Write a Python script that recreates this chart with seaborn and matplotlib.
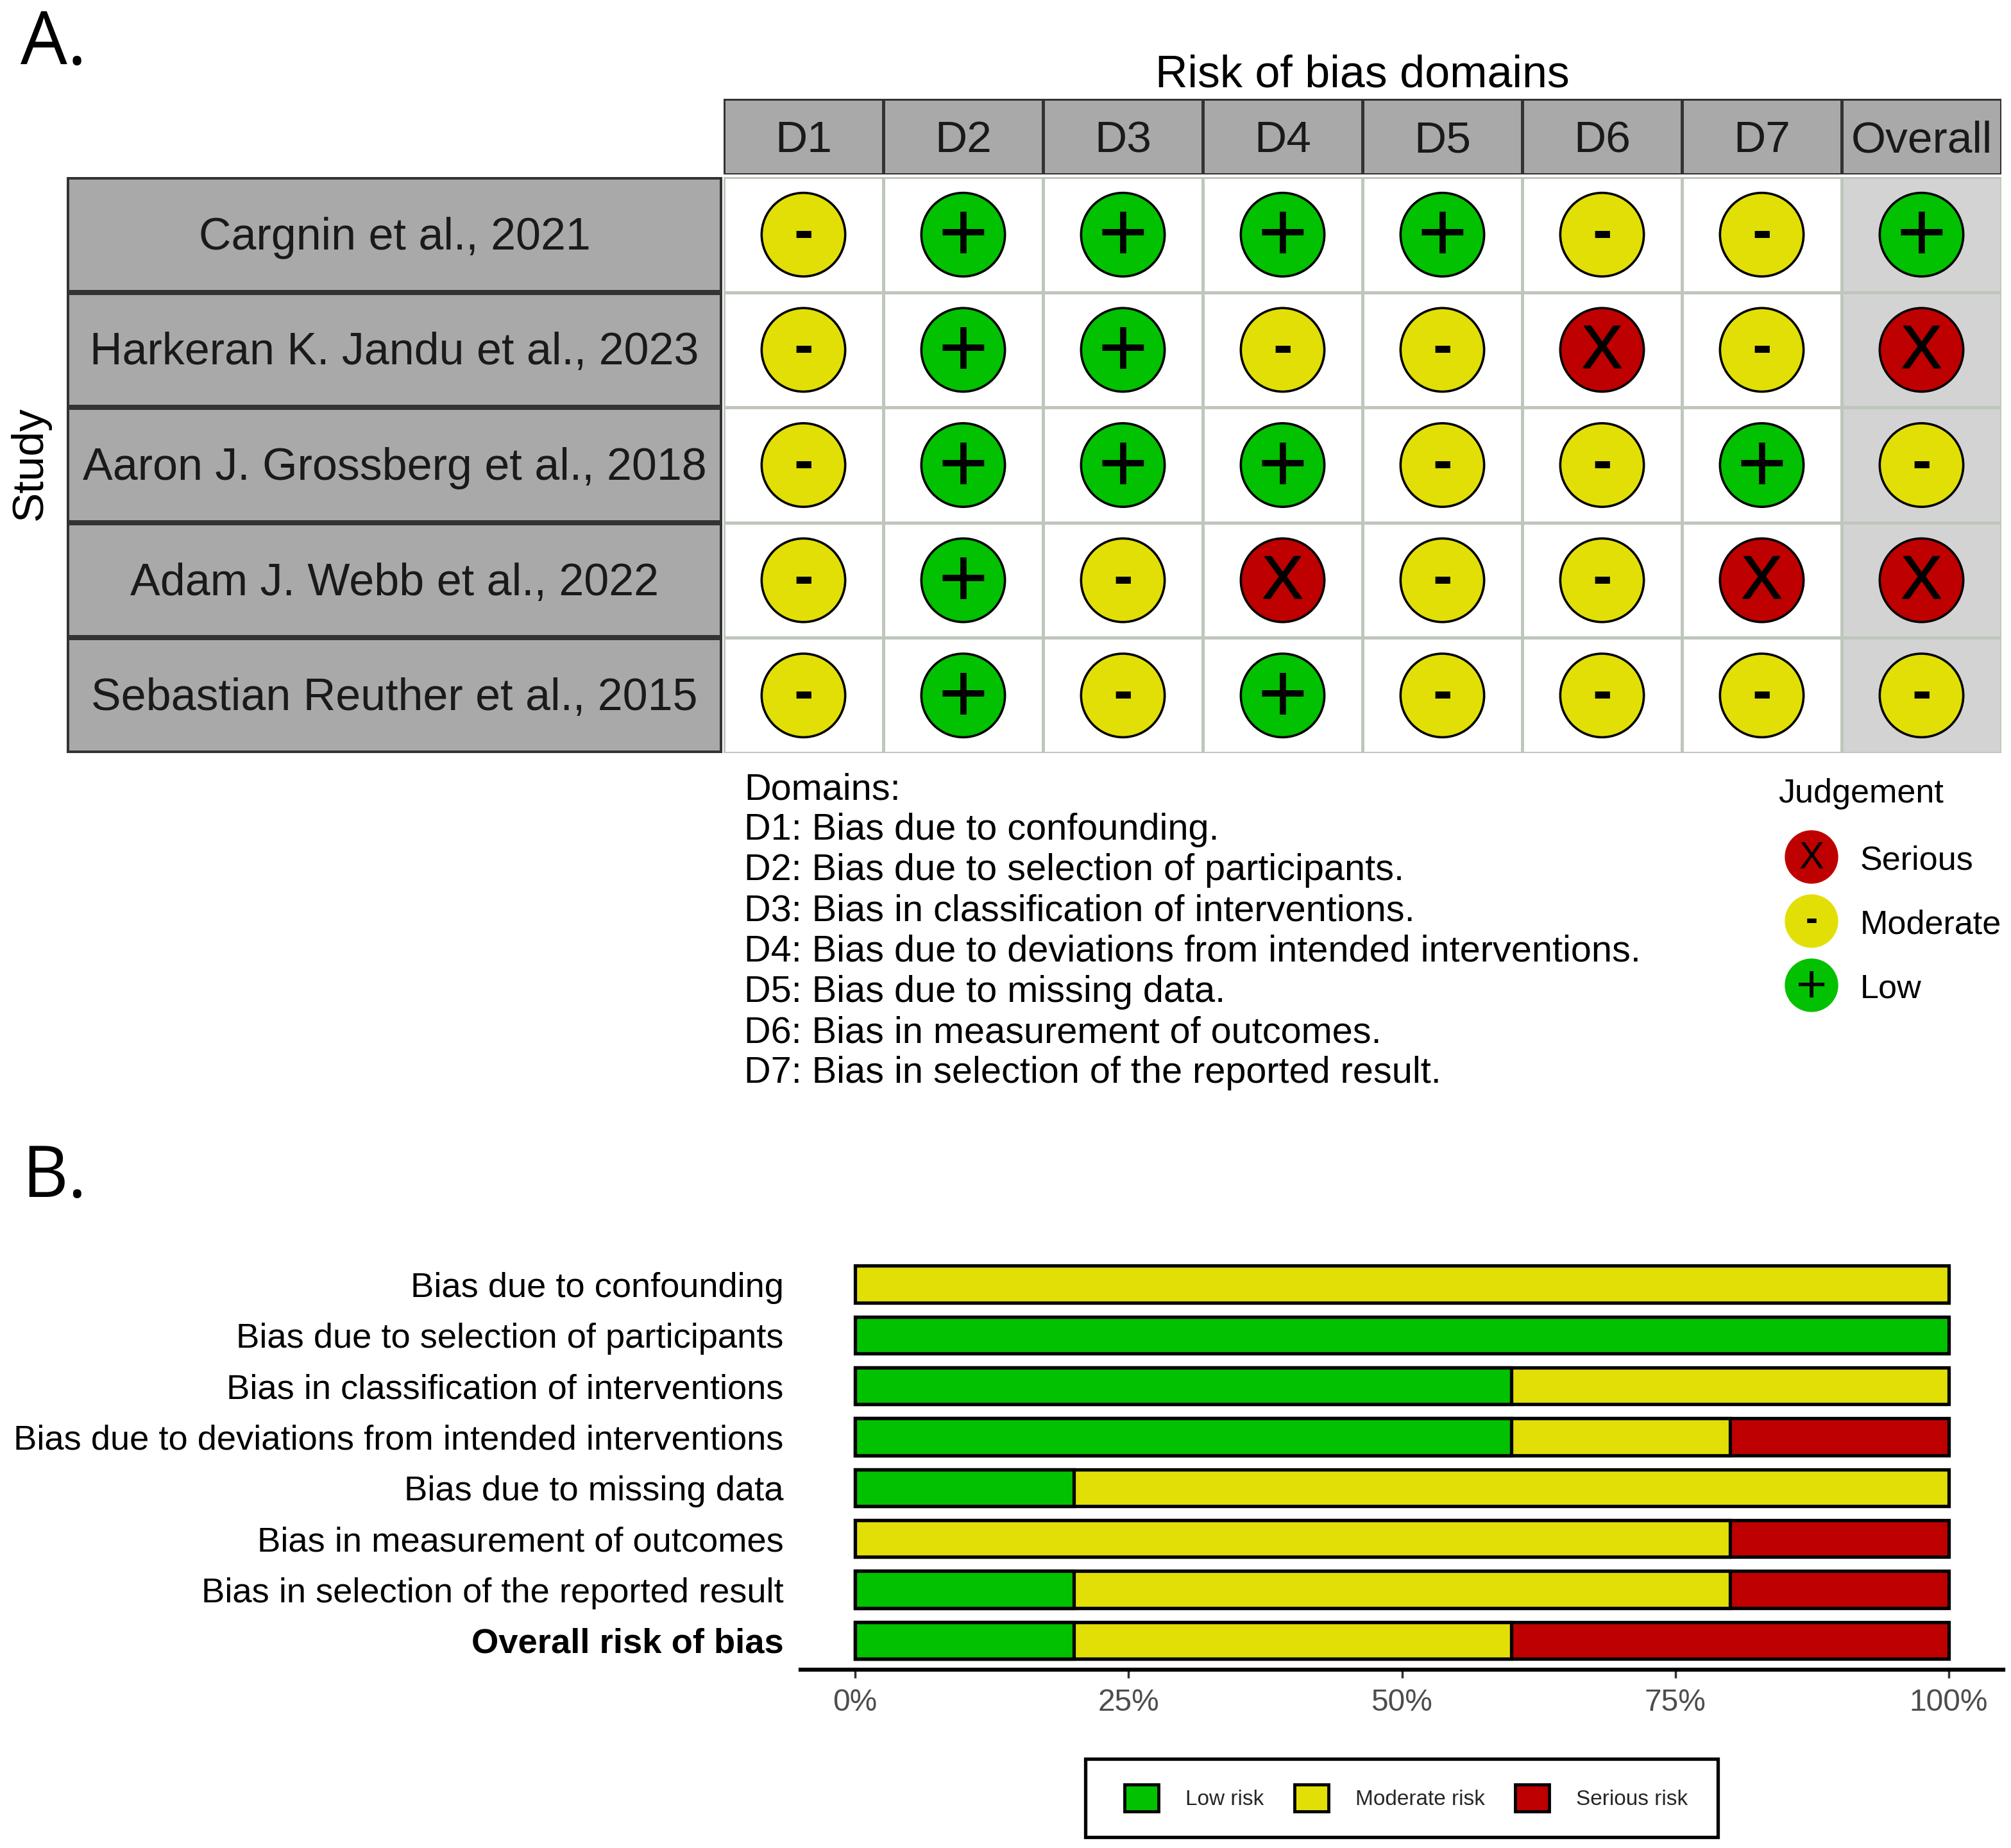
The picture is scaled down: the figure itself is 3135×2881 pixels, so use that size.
import matplotlib
matplotlib.use("Agg")
import matplotlib.pyplot as plt
import matplotlib.patheffects as pe
from matplotlib.colors import ListedColormap
from matplotlib.patches import Patch, Rectangle
import numpy as np
import pandas as pd
import seaborn as sns

W, H = 3135, 2881

studies = ["Cargnin et al., 2021", "Harkeran K. Jandu et al., 2023",
           "Aaron J. Grossberg et al., 2018", "Adam J. Webb et al., 2022",
           "Sebastian Reuther et al., 2015"]
domains = ["D1", "D2", "D3", "D4", "D5", "D6", "D7", "Overall"]
judgements = [
    ["-", "+", "+", "+", "+", "-", "-", "+"],
    ["-", "+", "+", "-", "-", "X", "-", "X"],
    ["-", "+", "+", "+", "-", "-", "+", "-"],
    ["-", "+", "-", "X", "-", "-", "X", "X"],
    ["-", "+", "-", "+", "-", "-", "-", "-"],
]
domain_notes = ["Domains:",
                "D1: Bias due to confounding.",
                "D2: Bias due to selection of participants.",
                "D3: Bias in classification of interventions.",
                "D4: Bias due to deviations from intended interventions.",
                "D5: Bias due to missing data.",
                "D6: Bias in measurement of outcomes.",
                "D7: Bias in selection of the reported result."]
judge_levels = ["Serious", "Moderate", "Low"]
judge_symbols = ["X", "-", "+"]

bias_labels = ["Bias due to confounding", "Bias due to selection of participants",
               "Bias in classification of interventions",
               "Bias due to deviations from intended interventions",
               "Bias due to missing data", "Bias in measurement of outcomes",
               "Bias in selection of the reported result", "Overall risk of bias"]
low_risk = [0, 100, 60, 60, 20, 0, 20, 20]
moderate_risk = [100, 0, 40, 20, 80, 80, 60, 40]
serious_risk = [0, 0, 0, 20, 0, 20, 20, 40]
pct_ticks = [0, 25, 50, 75, 100]

GREEN, YELLOW, RED = "#02C100", "#E2DF07", "#BF0000"
STRIP, DARK = "#A9A9A9", "#333333"
sym_colors = {"+": GREEN, "-": YELLOW, "X": RED}
sym_size = {"+": 96, "-": 66, "X": 68}
sym_weight = {"+": "normal", "-": "bold", "X": "normal"}
sym_shift = {"+": 0.04, "-": 0.0, "X": 0.02}
# X is a bit heavier in the reference than the regular weight
x_stroke = [pe.withStroke(linewidth=1.5, foreground="black")]

sns.set_theme(style="white")
plt.rcParams["font.family"] = ["Liberation Sans", "DejaVu Sans"]


def px_axes(x0, y0, x1, y1):
    return fig.add_axes([x0 / W, 1 - y1 / H, (x1 - x0) / W, (y1 - y0) / H])


fig = plt.figure(figsize=(W / 100, H / 100), dpi=100, facecolor="white")

# panel letters
fig.text(32 / W, 1 - 100 / H, "A.", fontsize=83, family="Open Sans", color="black", va="baseline")
fig.text(34 / W, 1 - 1866 / H, "B.", fontsize=80, family="Open Sans", color="black", va="baseline")

# traffic light grid
ax = px_axes(1128, 276, 3120, 1174)
bg = np.zeros((len(studies), len(domains)))
bg[:, -1] = 1
sns.heatmap(bg, ax=ax, cmap=ListedColormap(["white", "#D3D3D3"]), cbar=False,
            linewidths=3.5, linecolor="#BFC6BC", xticklabels=False, yticklabels=False)
long = pd.DataFrame([(i + 0.5, j + 0.5, judgements[j][i])
                     for j in range(len(studies)) for i in range(len(domains))],
                    columns=["x", "y", "j"])
sns.scatterplot(data=long, x="x", y="y", hue="j", palette=sym_colors, s=8800,
                edgecolor="black", linewidth=2.6, legend=False, ax=ax, zorder=3, clip_on=False)
for _, r in long.iterrows():
    t = ax.text(r.x, r.y + sym_shift[r.j], r.j, ha="center", va="center", color="black",
                fontsize=sym_size[r.j], fontweight=sym_weight[r.j], zorder=4)
    if r.j == "X":
        t.set_path_effects(x_stroke)
ax.set(xlabel="", ylabel="")

# strips
ax_top = px_axes(1128, 154, 3120, 272)
sns.heatmap(np.zeros((1, 8)), ax=ax_top, cmap=ListedColormap([STRIP]), cbar=False,
            annot=np.array([domains]), fmt="", annot_kws=dict(fontsize=50, color="#1A1A1A"),
            linewidths=3.6, linecolor=DARK, xticklabels=False, yticklabels=False)
for t in ax_top.texts:
    x, y = t.get_position()
    t.set_position((x, y + 0.055))
ax_left = px_axes(104, 276, 1126, 1174)
sns.heatmap(np.zeros((5, 1)), ax=ax_left, cmap=ListedColormap([STRIP]), cbar=False,
            annot=np.array([[s] for s in studies]), fmt="", annot_kws=dict(fontsize=50.4, color="#1A1A1A"),
            linewidths=4.5, linecolor=DARK, xticklabels=False, yticklabels=False)
for t in ax_left.texts:
    x, y = t.get_position()
    t.set_position((x, y + 0.028))
fig.text(2124 / W, 1 - 117 / H, "Risk of bias domains", fontsize=50.4, ha="center", va="center", color="black")
fig.text(47 / W, 1 - 722 / H, "Study", fontsize=50, rotation=90, ha="center", va="center", color="black")

for k, line in enumerate(domain_notes):
    fig.text(1160 / W, 1 - (1231 + k * 63.2) / H, line, fontsize=41.5, ha="left", va="center", color="black")

# judgement legend
ax_j = px_axes(2782, 1286, 2866, 1586)
leg = pd.DataFrame({"x": [0, 0, 0], "level": judge_levels, "sym": judge_symbols})
sns.scatterplot(data=leg, x="x", y="level", hue="sym", palette=sym_colors, s=3600,
                linewidth=0, legend=False, ax=ax_j, clip_on=False)
ax_j.set(xlim=(-0.5, 0.5), ylim=(2.5, -0.5), xlabel="", ylabel="", xticks=[])
ax_j.yaxis.tick_right()
ax_j.tick_params(axis="y", length=0, pad=24, labelsize=37.5, labelcolor="black")
sns.despine(ax=ax_j, left=True, bottom=True)
for n, s in enumerate(judge_symbols):
    ax_j.text(0, n + sym_shift[s], s, ha="center", va="center", fontsize=sym_size[s] * 0.62,
              fontweight=sym_weight[s], color="black")
fig.text(2772 / W, 1 - 1238 / H, "Judgement", fontsize=37.5, ha="left", va="center", color="black")

# summary bars
ax_b = px_axes(1248, 1958, 3123, 2603)
cum_low = np.array(low_risk)
cum_mod = cum_low + np.array(moderate_risk)
cum_ser = cum_mod + np.array(serious_risk)
for vals, part, col in [(cum_ser, serious_risk, RED), (cum_mod, moderate_risk, YELLOW), (cum_low, low_risk, GREEN)]:
    df = pd.DataFrame({"label": bias_labels, "v": vals, "part": part})
    df = df[df.part > 0]
    sns.barplot(data=df, x="v", y="label", order=bias_labels, color=col, width=0.72,
                saturation=1, edgecolor="black", linewidth=3.8, ax=ax_b)
ax_b.set(xlim=(-5, 105), ylim=(7.575, -0.555), xlabel="", ylabel="", xticks=pct_ticks)
ax_b.set_xticklabels([f"{t}%" for t in pct_ticks])
ax_b.tick_params(axis="x", length=9.5, width=2.5, color="#333333", labelsize=34.5, labelcolor="#4D4D4D", pad=11.5, bottom=True)
ax_b.tick_params(axis="y", length=0, pad=19, labelsize=39.2, labelcolor="black")
ax_b.get_yticklabels()[-1].set_fontweight("bold")
sns.despine(ax=ax_b, left=True)
ax_b.spines["bottom"].set_linewidth(4.5)
ax_b.spines["bottom"].set_color("black")

# legend box is drawn on its own, ggplot pads it more sideways than up and down
fig.add_artist(Rectangle((1692 / W, 1 - 2864 / H), 986 / W, 122 / H, transform=fig.transFigure,
                         facecolor="white", edgecolor="black", linewidth=3.8))
handles = [Patch(facecolor=c, edgecolor="black", linewidth=3.5, label=l)
           for c, l in [(GREEN, "Low risk"), (YELLOW, "Moderate risk"), (RED, "Serious risk")]]
lg = fig.legend(handles=handles, ncol=3, loc="center", bbox_to_anchor=(2192 / W, 1 - 2803 / H),
                fontsize=24, frameon=False, handlelength=1.6, handleheight=1.6,
                handletextpad=1.25, columnspacing=1.42, borderpad=0)

fig.savefig("out.png", dpi=100)
